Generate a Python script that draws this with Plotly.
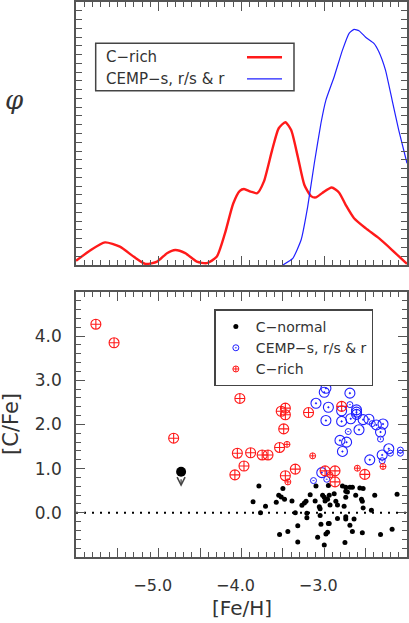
import plotly.graph_objects as go

# ---------------- data ----------------
# top panel: distribution curves
crich_kde_feh = [-6.00, -5.83, -5.65, -5.47, -5.30, -5.16, -5.02, -4.90, -4.80, -4.68, -4.54, -4.42,
                 -4.30, -4.20, -4.10, -4.02, -3.97, -3.89, -3.81, -3.73, -3.63, -3.55, -3.47, -3.40,
                 -3.32, -3.24, -3.16, -3.10, -3.02, -2.91, -2.82, -2.74, -2.64, -2.50, -2.34, -2.18, -2.00]
crich_kde_phi = [0.016, 0.055, 0.086, 0.070, 0.031, 0.004, 0.013, 0.045, 0.057, 0.045, 0.013, 0.007,
                 0.031, 0.120, 0.234, 0.282, 0.289, 0.279, 0.273, 0.317, 0.437, 0.520, 0.543, 0.513,
                 0.412, 0.304, 0.262, 0.257, 0.275, 0.295, 0.275, 0.228, 0.178, 0.140, 0.102, 0.057, 0.004]
cemp_kde_feh = [-3.50, -3.38, -3.28, -3.20, -3.12, -3.04, -2.98, -2.88, -2.78, -2.70, -2.64, -2.58,
                -2.50, -2.40, -2.34, -2.26, -2.18, -2.10, -2.00]
cemp_kde_phi = [0.0, 0.025, 0.095, 0.222, 0.387, 0.539, 0.627, 0.716, 0.817, 0.881, 0.896, 0.891,
                0.866, 0.843, 0.811, 0.741, 0.627, 0.513, 0.387]

# bottom panel: C-rich stars (big / small symbols)
crich_big_feh = [-5.76, -5.54, -4.82, -4.02, -4.05, -3.89, -3.97, -4.08, -3.75, -3.68, -3.54, -3.49,
                 -3.52, -3.47, -3.47, -3.47, -3.35, -3.19, -2.99, -2.87, -2.87, -2.79, -2.51]
crich_big_cfe = [4.27, 3.85, 1.69, 2.59, 1.35, 1.36, 1.06, 0.86, 1.31, 1.31, 1.48, 1.90,
                 2.30, 2.37, 2.22, 0.84, 0.99, 2.27, 0.95, 0.95, 0.70, 2.41, 0.87]
crich_small_feh = [-3.45, -3.44, -3.14, -2.93, -2.60, -2.29]
crich_small_cfe = [1.55, 0.70, 1.29, 0.86, 1.01, 1.05]

# bottom panel: CEMP-s, r/s & r stars
cemp_big_feh = [-3.03, -3.10, -3.00, -2.98, -2.95, -2.98, -2.79, -2.79, -2.69, -2.68, -2.81, -2.73,
                -2.78, -2.61, -2.61, -2.61, -2.58, -2.53, -2.46, -2.37, -2.29, -2.32, -2.45, -2.30, -2.22]
cemp_big_cfe = [0.91, 2.48, 2.73, 2.82, 2.39, 2.09, 2.31, 2.07, 2.71, 2.13, 1.64, 1.60,
                1.39, 2.33, 2.28, 2.23, 1.88, 2.11, 2.12, 1.99, 2.01, 1.83, 1.20, 1.31, 1.45]
cemp_small_feh = [-3.13, -2.97, -2.69, -2.71, -2.42, -2.32, -2.30, -2.20, -2.08, -2.08]
cemp_small_cfe = [0.73, 0.76, 2.45, 1.84, 2.02, 1.67, 1.18, 1.35, 1.42, 1.35]

# bottom panel: C-normal stars
cnorm_feh = [-3.79, -3.86, -3.77, -3.71, -3.58, -3.55, -3.52, -3.48, -3.50, -3.39, -3.44, -3.54,
             -3.35, -3.32, -3.32, -3.27, -3.24, -3.22, -3.17, -3.21, -3.21, -3.10, -3.11, -3.06,
             -3.08, -3.04, -3.02, -3.00, -2.99, -2.96, -2.94, -2.93, -2.95, -2.98, -2.95, -2.94,
             -3.00, -2.88, -2.86, -2.84, -2.84, -2.78, -2.74, -2.76, -2.74, -2.74, -2.75, -2.74,
             -2.72, -2.69, -2.66, -2.69, -2.66, -2.64, -2.62, -2.57, -2.53, -2.55, -2.54, -2.53,
             -2.54, -2.43, -2.39, -2.32, -2.18, -2.12, -3.05, -3.05, -2.96, -2.74]
cnorm_cfe = [0.61, 0.25, 0.00, 0.15, 0.24, 0.40, 0.36, 0.31, 0.55, 0.27, -0.42, -0.49,
             0.00, -0.29, -0.66, 0.17, 0.22, 0.26, 0.41, -0.01, -0.11, 0.61, 0.27, 0.14,
             -0.55, -0.26, 0.40, 0.35, 0.27, 0.31, 0.40, 0.18, 0.62, -0.48, -0.24, -0.24,
             -0.73, 0.43, 0.26, 0.18, -0.13, 0.61, 0.58, 0.15, -0.09, -0.14, -0.67, 0.35,
             0.47, 0.58, 0.58, -0.28, -0.42, -0.14, 0.40, 0.56, 0.55, 0.31, 0.26, 0.11,
             -0.45, 0.06, 0.40, -0.49, -0.37, 0.42, 0.09, -0.06, -0.44, 0.49]

# upper limit star
ul_feh = [-4.73]
ul_cfe = [0.93]

# tick labels
x_tick_vals = [-6.0, -5.5, -5.0, -4.5, -4.0, -3.5, -3.0, -2.5, -2.0]
x_tick_text = ["", "", "\u22125.0", "", "\u22124.0", "", "\u22123.0", "", ""]
y_tick_vals = [-1, 0, 1, 2, 3, 4, 5]
y_tick_text = ["", "0.0", "1.0", "2.0", "3.0", "4.0", ""]

# ---------------- styling ----------------
FONT = "DejaVu Sans"
TXT = "#333333"
AX = "#555555"
RED = "#ff1a1a"
BLUE = "#2020ff"

fig = go.Figure()

fig.add_trace(go.Scatter(x=crich_kde_feh, y=crich_kde_phi, mode="lines",
                         line=dict(color=RED, width=2.4, shape="spline", smoothing=0.6),
                         xaxis="x", yaxis="y", showlegend=False))
fig.add_trace(go.Scatter(x=cemp_kde_feh, y=cemp_kde_phi, mode="lines",
                         line=dict(color=BLUE, width=1.2, shape="spline", smoothing=0.4),
                         xaxis="x", yaxis="y", showlegend=False))

fig.add_trace(go.Scatter(x=cnorm_feh, y=cnorm_cfe, mode="markers", name="C\u2212normal",
                         marker=dict(symbol="circle", size=5, color="black"),
                         xaxis="x2", yaxis="y2", legendrank=1))
fig.add_trace(go.Scatter(x=cemp_big_feh, y=cemp_big_cfe, mode="markers", showlegend=False,
                         marker=dict(symbol="circle-open-dot", size=10, color=BLUE, line=dict(width=1.1)),
                         xaxis="x2", yaxis="y2"))
fig.add_trace(go.Scatter(x=cemp_small_feh, y=cemp_small_cfe, mode="markers", name="CEMP\u2212s, r/s & r",
                         marker=dict(symbol="circle-open-dot", size=6, color=BLUE, line=dict(width=1)),
                         xaxis="x2", yaxis="y2", legendrank=2))
fig.add_trace(go.Scatter(x=crich_big_feh, y=crich_big_cfe, mode="markers", showlegend=False,
                         marker=dict(symbol="circle-cross-open", size=10, color=RED, line=dict(width=1.1)),
                         xaxis="x2", yaxis="y2"))
fig.add_trace(go.Scatter(x=crich_small_feh, y=crich_small_cfe, mode="markers", name="C\u2212rich",
                         marker=dict(symbol="circle-cross-open", size=6, color=RED, line=dict(width=1)),
                         xaxis="x2", yaxis="y2", legendrank=3))
fig.add_trace(go.Scatter(x=ul_feh, y=ul_cfe, mode="markers", showlegend=False,
                         marker=dict(symbol="circle", size=10, color="black"),
                         xaxis="x2", yaxis="y2"))

common_x = dict(range=[-6.0, -2.0], showline=True, linecolor=AX, linewidth=1.6, mirror="ticks",
                ticks="inside", ticklen=9, tickwidth=1, tickcolor=AX,
                tickmode="array", tickvals=x_tick_vals, ticktext=x_tick_text,
                minor=dict(ticks="inside", ticklen=5, tickwidth=1, tickcolor=AX, dtick=0.1, tick0=-6.0, showgrid=False),
                showgrid=False, zeroline=False, automargin=False)

fig.update_layout(
    width=409, height=623,
    margin=dict(l=76, r=2, t=2, b=66),
    paper_bgcolor="white", plot_bgcolor="white",
    font=dict(family=FONT, color=TXT, size=15),
    xaxis=dict(**common_x, domain=[0, 1], anchor="y", showticklabels=False),
    yaxis=dict(domain=[0.5261, 1], anchor="x", range=[0, 1.0], showline=True, linecolor=AX, linewidth=1.6,
               mirror="ticks", ticks="inside", ticklen=6, tickwidth=1, tickcolor=AX, automargin=False,
               tickmode="linear", tick0=0, dtick=1 / 30, showticklabels=False, showgrid=False, zeroline=False),
    xaxis2=dict(**common_x, domain=[0, 1], anchor="y2", showticklabels=True,
                tickfont=dict(size=16, family=FONT, color=TXT), ticklabelstandoff=13, ticklabelshift=-6),
    yaxis2=dict(domain=[0, 0.4775], anchor="x2", range=[-1, 5], showline=True, linecolor=AX, linewidth=1.6,
                mirror="ticks", ticks="inside", ticklen=9, tickwidth=1, tickcolor=AX, automargin=False,
                tickmode="array", tickvals=y_tick_vals, ticktext=y_tick_text,
                minor=dict(ticks="inside", ticklen=5, tickwidth=1, tickcolor=AX, dtick=0.2, tick0=0, showgrid=False),
                tickfont=dict(size=17, family=FONT, color=TXT), ticklabelstandoff=9,
                showgrid=False, zeroline=False),
    legend=dict(x=0.418, y=0.446, xanchor="left", yanchor="top", bgcolor="white",
                bordercolor="#444444", borderwidth=1.5, font=dict(size=14, family=FONT, color=TXT),
                itemwidth=30, tracegroupgap=0, traceorder="normal"),
    showlegend=True,
)

# zero line (dotted)
fig.add_shape(type="line", xref="x2 domain", yref="y2", x0=0, x1=1, y0=0, y1=0,
              line=dict(color="black", width=2, dash="2px,6px"), layer="below")

# upper-limit arrow
fig.add_annotation(x=ul_feh[0], y=ul_cfe[0], xref="x2", yref="y2", text="", showarrow=True,
                   arrowhead=5, arrowsize=1.2, arrowwidth=1.3, arrowcolor="#444444",
                   ax=0, ay=-9, yshift=-15)

# top-panel hand-made legend (text left, line sample right)
fig.add_shape(type="rect", xref="x domain", yref="y domain", x0=0.0595, x1=0.6586, y0=0.6627, y1=0.843,
              line=dict(color="#444444", width=1.5), fillcolor="white", layer="below")
fig.add_shape(type="line", xref="x domain", yref="y domain", x0=0.5166, x1=0.6224, y0=0.79, y1=0.79,
              line=dict(color=RED, width=2.4))
fig.add_shape(type="line", xref="x domain", yref="y domain", x0=0.5166, x1=0.6224, y0=0.708, y1=0.708,
              line=dict(color=BLUE, width=1.2))
fig.add_annotation(xref="x domain", yref="y domain", x=0.0846, y=0.79, text="C\u2212rich", showarrow=False,
                   xanchor="left", yanchor="middle", font=dict(size=15, family=FONT, color=TXT))
fig.add_annotation(xref="x domain", yref="y domain", x=0.0846, y=0.708, text="CEMP\u2212s, r/s &amp; r",
                   showarrow=False, xanchor="left", yanchor="middle", font=dict(size=15, family=FONT, color=TXT))

# axis titles
fig.add_annotation(xref="paper", yref="paper", x=0.5, y=-0.091, text="[Fe/H]", showarrow=False,
                   xanchor="center", yanchor="middle", font=dict(size=20, family=FONT, color=TXT))
fig.add_annotation(xref="paper", yref="paper", x=-0.196, y=0.24, text="[C/Fe]", showarrow=False, textangle=-90,
                   xanchor="center", yanchor="middle", font=dict(size=21, family=FONT, color=TXT))
fig.add_annotation(xref="paper", yref="paper", x=-0.185, y=0.823, text="<i>\u03c6</i>", showarrow=False,
                   xanchor="center", yanchor="middle", font=dict(size=26, family="DejaVu Serif", color=TXT))

fig.write_html("out.html", post_script="document.body.style.margin='0px';",
               config={"displayModeBar": False})
